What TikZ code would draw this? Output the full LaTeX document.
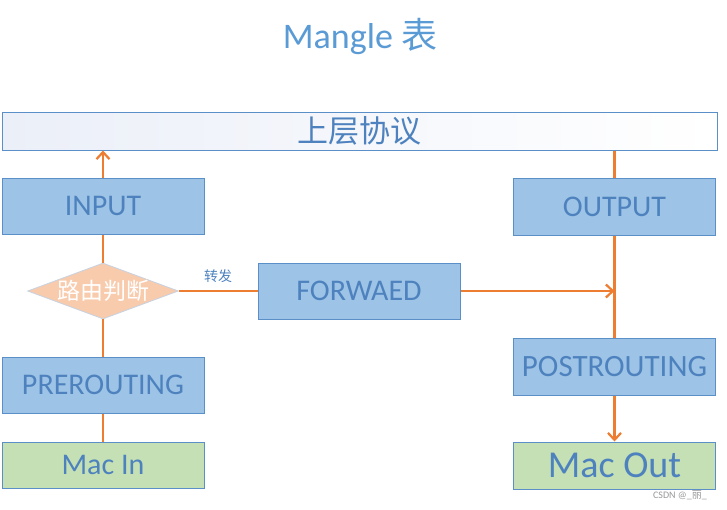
\documentclass[tikz,border=0pt]{standalone}
\usepackage{fontspec}
\setmainfont{Carlito}
\newfontfamily\cjk{Noto Sans CJK SC}
\usetikzlibrary{shapes.geometric,arrows.meta}
\definecolor{boxfill}{HTML}{9DC3E6}
\definecolor{boxline}{HTML}{5B8FC7}
\definecolor{boxtext}{HTML}{4E82BE}
\definecolor{greenfill}{HTML}{C5E0B4}
\definecolor{diafill}{HTML}{F8CBAD}
\definecolor{dialine}{HTML}{C8D2E0}
\definecolor{orangeln}{HTML}{ED7D31}
\definecolor{titleblue}{HTML}{5B9BD5}
\definecolor{barleft}{HTML}{EBEFF8}
\newcommand\fsz[1]{\fontsize{#1}{#1}\selectfont}
\tikzset{
  bluebox/.style={draw=boxline, line width=1pt, fill=boxfill, text=boxtext, inner sep=0pt, minimum width=202, minimum height=56, font=\fsz{30}},
  greenbox/.style={draw=boxline, line width=1pt, fill=greenfill, text=boxtext, inner sep=0pt, minimum width=202, minimum height=46},
  ln/.style={draw=orangeln, line width=2.8pt},
  arr/.style={ln, -{Straight Barb[length=7pt,width=13pt,line width=2.2pt]}},
}
\begin{document}
\begin{tikzpicture}[x=1pt,y=-1pt]
\path[fill=white] (0,0) rectangle (727,509);
\useasboundingbox (0,0) rectangle (727,509);
% title
\node[text=titleblue, font=\fsz{36}] (title) at (360,36) {Mangle {\cjk 表}};
% top bar
\node[draw=boxline, line width=1pt, left color=barleft, right color=white, inner sep=0pt,
      minimum width=715, minimum height=38, text=boxtext, font=\cjk\fsz{31}] (top) at (359.5,131) {上层协议};
% boxes
\node[bluebox] (input) at (103,206) {INPUT};
\node[bluebox, minimum height=57] (output) at (614.5,206.5) {OUTPUT};
\node[bluebox] (fwd) at (359,291) {FORWAED};
\node[bluebox] (pre) at (103,385) {PREROUTING};
\node[bluebox, minimum height=57, font=\fsz{31}] (post) at (614.5,366.5) {POSTROUTING};
\node[greenbox, font=\fsz{30}] (macin) at (103,465) {Mac In};
\node[greenbox, minimum height=47, font=\fsz{38}] (macout) at (614.5,465.5) {Mac Out};
% diamond
\node[diamond, draw=dialine, line width=0.8pt, fill=diafill, text=white, inner sep=0pt,
      aspect=2.75, minimum width=150, minimum height=56, font=\cjk\fsz{23}] (dec) at (103,291) {路由判断};
% connectors
\draw[arr] (input.north) -- (input.north |- top.south);
\draw[ln] (dec.north) -- (input.south);
\draw[ln] (dec.south) -- (pre.north);
\draw[ln] (pre.south) -- (macin.north);
\draw[ln] (dec.east) -- node[above=4pt, text=boxtext, font=\cjk\fsz{14}] (lbl) {转发} (fwd.west);
\draw[ln] (top.south -| output.north) -- (output.north);
\draw[ln] (output.south) -- (post.north);
\coordinate (join) at (output.south |- fwd.east);
\draw[arr] (fwd.east) -- (join);
\draw[arr] (post.south) -- (macout.north);
% watermark
\node[text=gray!80, font=\fsz{10}, inner sep=0pt] (wm) at (680,495) {CSDN @\_{\cjk 丽}\_};
\end{tikzpicture}
\end{document}
